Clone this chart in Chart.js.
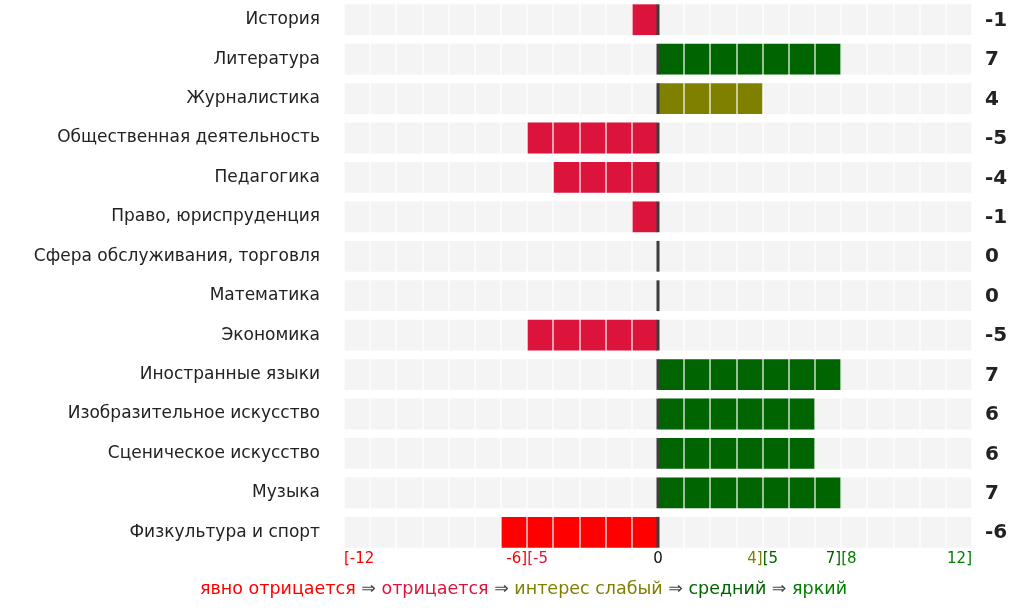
<!DOCTYPE html>
<html>
<head>
<meta charset="utf-8">
<script src="https://cdn.jsdelivr.net/npm/chart.js@4.4.1/dist/chart.umd.min.js"></script>
<style>
    html, body { margin: 0; padding: 0; background: #fff; }
    #wrap { width: 1031px; height: 610px; }
</style>
</head>
<body>
<div id="wrap"><canvas id="interest-chart"></canvas></div>
<script>
//  DATA

var categories = [
    'История',
    'Литература',
    'Журналистика',
    'Общественная деятельность',
    'Педагогика',
    'Право, юриспруденция',
    'Сфера обслуживания, торговля',
    'Математика',
    'Экономика',
    'Иностранные языки',
    'Изобразительное искусство',
    'Сценическое искусство',
    'Музыка',
    'Физкультура и спорт'
];

var scores = [-1, 7, 4, -5, -4, -1, 0, 0, -5, 7, 6, 6, 7, -6];

var scaleMin = -12;
var scaleMax = 12;

// bottom tick labels: value, text left of the mark, text right of the mark
var tickValues = [-12, -5, 0, 4, 7, 12];
var tickLeft = ['', '-6]', '', '4]', '7]', '12]'];
var tickRight = ['[-12', '[-5', '', '[5', '[8', ''];
var tickLeftColors = ['', '#ff0000', '', '#808000', '#006400', '#008000'];
var tickRightColors = ['#ff0000', '#dc143c', '', '#006400', '#008000', ''];

var legendParts = ['явно отрицается', 'отрицается', 'интерес слабый', 'средний', 'яркий'];
var legendColors = ['#ff0000', '#dc143c', '#808000', '#006400', '#008000'];

function levelColor(v) {
    if (v <= -6) return '#ff0000';
    if (v <= -1) return '#dc143c';
    if (v <= 4) return '#808000';
    if (v <= 7) return '#006400';
    return '#008000';
}

var FONT = 'DejaVu Sans';

var overlay = {
    id: 'overlay',
    afterDraw: function(chart) {
        var c = chart.ctx;
        var x = chart.scales.x;
        var area = chart.chartArea;
        var x0 = x.getPixelForValue(0);

        // zero line inside every row
        c.save();
        c.fillStyle = '#3c3c3c';
        chart.getDatasetMeta(0).data.forEach(function(bar) {
            c.fillRect(x0 - 1.5, bar.y - bar.height / 2, 3, bar.height);
        });

        // values on the right
        c.font = 'bold 20px ' + FONT;
        c.fillStyle = '#222';
        c.textAlign = 'left';
        c.textBaseline = 'middle';
        chart.getDatasetMeta(0).data.forEach(function(bar, i) {
            c.fillText(String(scores[i]), area.right + 13, bar.y + 1);
        });

        // bottom ticks
        c.font = '15px ' + FONT;
        c.textBaseline = 'middle';
        var ty = area.bottom + 7;
        tickValues.forEach(function(v, i) {
            var px = x.getPixelForValue(v);
            if (v === 0) {
                c.fillStyle = '#111';
                c.textAlign = 'center';
                c.fillText('0', px, ty);
                return;
            }
            if (tickLeft[i]) {
                c.fillStyle = tickLeftColors[i];
                c.textAlign = 'right';
                c.fillText(tickLeft[i], px, ty);
            }
            if (tickRight[i]) {
                c.fillStyle = tickRightColors[i];
                c.textAlign = 'left';
                c.fillText(tickRight[i], px, ty);
            }
        });

        // legend line
        c.font = '17.5px ' + FONT;
        var sep = ' \u21d2 ';
        var total = 0;
        legendParts.forEach(function(p, i) {
            total += c.measureText(p).width;
            if (i < legendParts.length - 1) total += c.measureText(sep).width;
        });
        var lx = chart.width / 2 - total / 2 + 8;
        var ly = area.bottom + 37;
        c.textAlign = 'left';
        legendParts.forEach(function(p, i) {
            c.fillStyle = legendColors[i];
            c.fillText(p, lx, ly);
            lx += c.measureText(p).width;
            if (i < legendParts.length - 1) {
                c.fillStyle = '#444';
                c.fillText(sep, lx, ly);
                lx += c.measureText(sep).width;
            }
        });
        c.restore();
    }
};

var chart = document.querySelector('#interest-chart');
var myChart = new Chart(
    chart, {
        type: 'bar',
        data: {
            labels: categories,
            datasets: [{
                label: 'scale',
                data: categories.map(function() { return [scaleMin, scaleMax]; }),
                backgroundColor: '#f4f4f4',
                barPercentage: 0.78,
                categoryPercentage: 1,
                grouped: false,
                order: 2
            },
            {
                label: 'score',
                data: scores.map(function(v) { return [0, v]; }),
                backgroundColor: scores.map(levelColor),
                barPercentage: 0.78,
                categoryPercentage: 1,
                grouped: false,
                order: 1
            }]
        },
        options: {
            indexAxis: 'y',
            responsive: true,
            maintainAspectRatio: false,
            animation: false,
            layout: {
                autoPadding: false,
                padding: { top: 0, right: 59, bottom: 58, left: 0 }
            },
            plugins: {
                legend: { display: false },
                tooltip: { enabled: false }
            },
            scales: {
                x: {
                    position: 'bottom',
                    min: scaleMin,
                    max: scaleMax,
                    ticks: { display: false, stepSize: 1 },
                    grid: {
                        color: 'rgba(255, 255, 255, 0.6)',
                        lineWidth: 2,
                        drawTicks: false,
                        z: 1
                    },
                    border: { display: false }
                },
                y: {
                    ticks: {
                        color: '#222',
                        padding: 24,
                        font: { size: 17, family: FONT }
                    },
                    grid: { display: false, drawTicks: false },
                    border: { display: false },
                    afterFit: function(scale) {
                        scale.width = 344;
                        scale.paddingTop = 0;
                        scale.paddingBottom = 0;
                    }
                }
            }
        },
        plugins: [overlay]
    }
);
</script>
</body>
</html>
